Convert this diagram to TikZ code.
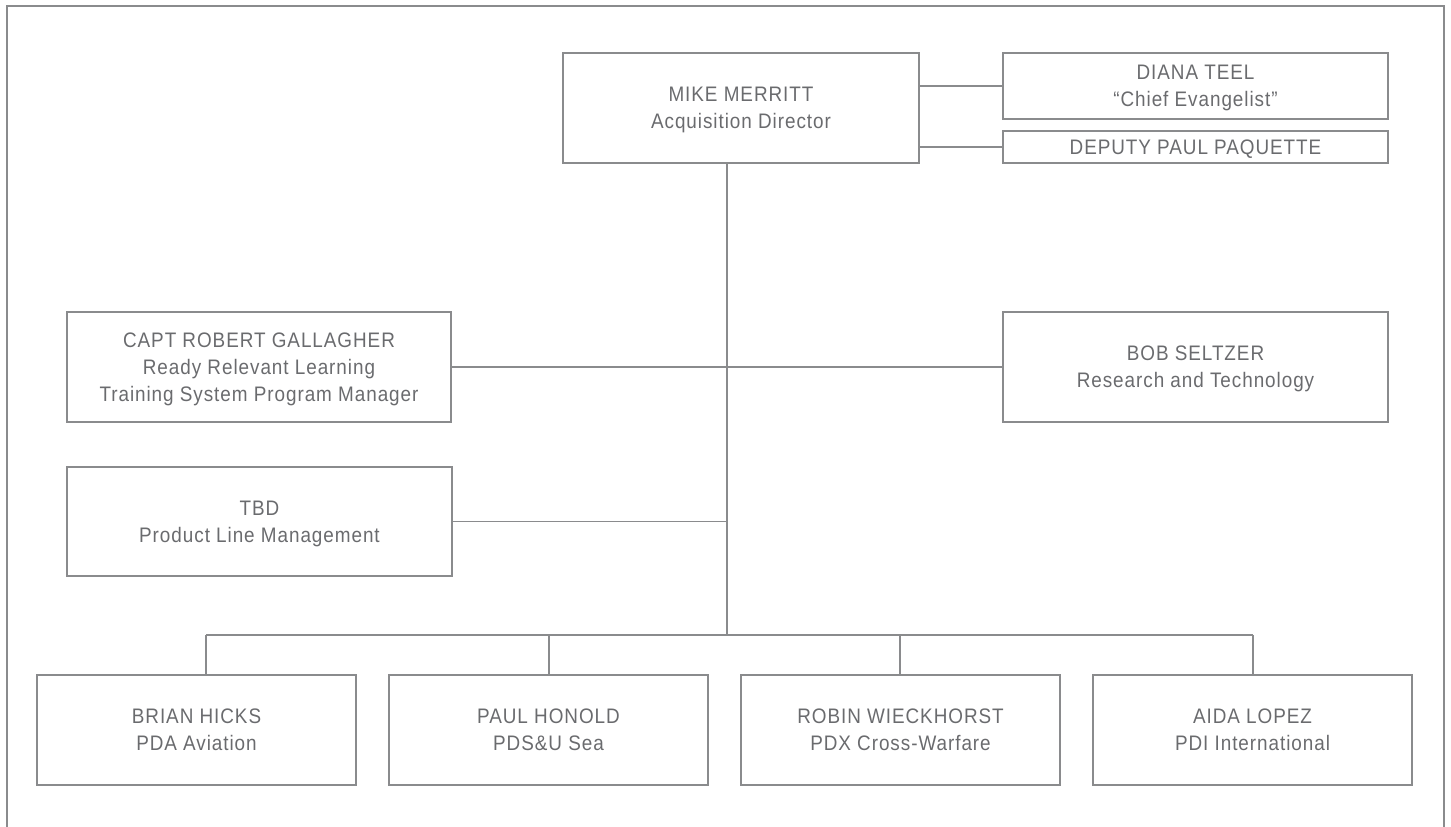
\documentclass[tikz,border=0pt]{standalone}
\usepackage{fontspec}
\setmainfont{Liberation Sans}[FakeStretch=0.9, LetterSpace=4.5]
\definecolor{linegray}{HTML}{8A8B8D}
\definecolor{textgray}{HTML}{6A6B6E}
\begin{document}
\begin{tikzpicture}[x=1pt,y=-1pt,
  box/.style={draw=linegray, line width=1.4pt, rectangle, inner sep=0pt, align=center,
    text=textgray, text depth=0pt, font=\fontsize{21}{27}\selectfont},
  wide/.style={minimum width=385pt},
  tall/.style={minimum height=110pt},
  bottombox/.style={box, minimum width=319pt, minimum height=110pt},
  conn/.style={draw=linegray, line width=1.4pt},
  frame/.style={draw=linegray, line width=2pt}]
\useasboundingbox (0,0) rectangle (1451,827);
% frame (open at the bottom)
\coordinate (fbl) at (7,830);
\coordinate (ftl) at (7,6);
\coordinate (ftr) at (1444,6);
\coordinate (fbr) at (1444,830);
\draw[frame] (fbl) -- (ftl) -- (ftr) -- (fbr);
% nodes
\node[box, minimum width=356pt, tall] (mike) at (741,108) {MIKE MERRITT\\Acquisition Director};
\node[box, wide, minimum height=66pt] (diana) at (1195.5,86) {DIANA TEEL\\“Chief Evangelist”};
\node[box, wide, minimum height=32pt] (deputy) at (1195.5,147) {DEPUTY PAUL PAQUETTE};
\node[box, minimum width=384pt, tall] (capt) at (259,367) {CAPT ROBERT GALLAGHER\\Ready Relevant Learning\\Training System Program Manager};
\node[box, wide, tall] (bob) at (1195.5,367) {BOB SELTZER\\Research and Technology};
\node[box, wide, minimum height=109pt] (tbd) at (259.5,521.5) {TBD\\Product Line Management};
\node[bottombox] (brian) at (196.5,730) {BRIAN HICKS\\PDA Aviation};
\node[bottombox] (paul) at (548.5,730) {PAUL HONOLD\\PDS\&U Sea};
\node[bottombox] (robin) at (900.5,730) {ROBIN WIECKHORST\\PDX Cross-Warfare};
\node[bottombox] (aida) at (1252.5,730) {AIDA LOPEZ\\PDI International};
% connector coordinates
\coordinate (mtop) at (727,163);
\coordinate (bus) at (727,635);
\coordinate (d1) at (206,635);
\coordinate (d2) at (549,635);
\coordinate (d3) at (900,635);
\coordinate (d4) at (1253,635);
% connectors
\draw[conn] (mike.east |- diana.west) -- (diana.west);
\draw[conn] (mike.east |- deputy.west) -- (deputy.west);
\draw[conn] (mtop) -- (bus);
\draw[conn] (capt.east) -- (bob.west);
\draw[conn] (tbd.east) -- (tbd.east -| mtop);
\draw[conn] (d1) -- (d4);
\draw[conn] (d1) -- (d1 |- brian.north);
\draw[conn] (d2) -- (d2 |- paul.north);
\draw[conn] (d3) -- (d3 |- robin.north);
\draw[conn] (d4) -- (d4 |- aida.north);
\end{tikzpicture}
\end{document}
